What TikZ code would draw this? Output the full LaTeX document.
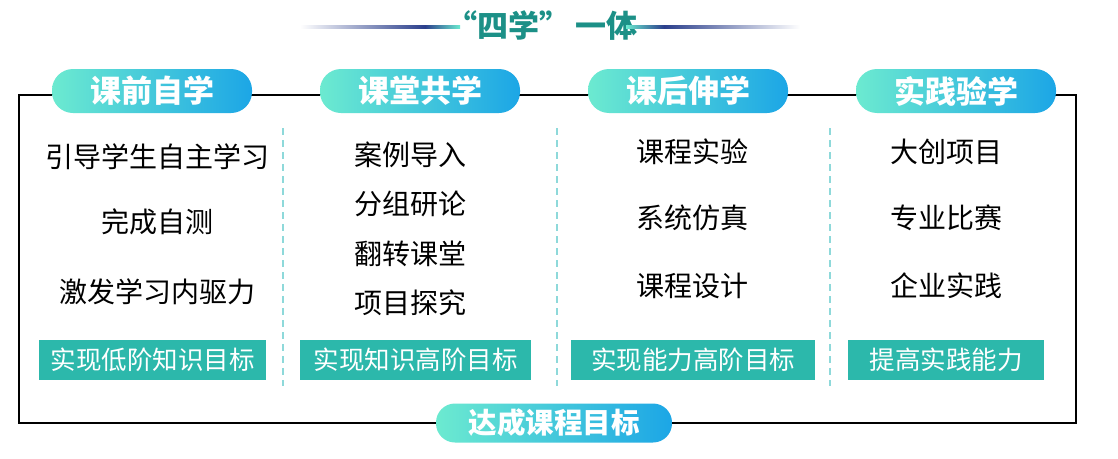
\documentclass[tikz,border=0pt]{standalone}
\usepackage{fontspec}
\setmainfont{Noto Sans CJK SC}
\definecolor{pillL}{HTML}{6CEAD0}
\definecolor{pillR}{HTML}{1CA6E6}
\definecolor{goalC}{HTML}{2CB8AB}
\definecolor{titleC}{HTML}{1C9087}
\definecolor{dashC}{HTML}{8ED9DA}
\definecolor{navyC}{HTML}{2B3F8C}
\begin{document}
\begin{tikzpicture}[x=1pt,y=-1pt,
  pill/.style={rectangle, rounded corners=21pt, minimum width=200pt, minimum height=44pt,
    left color=pillL, right color=pillR, draw=none, text=white, inner sep=0pt,
    font=\bfseries\fontsize{31}{31}\selectfont},
  goal/.style={rectangle, fill=goalC, text=white, minimum height=40pt, inner sep=0pt,
    font=\fontsize{25.5}{25.5}\selectfont},
  item/.style={text=black, inner sep=0pt, font=\fontsize{28}{28}\selectfont},
  sep/.style={dashC, line width=1.6pt, dash pattern=on 7pt off 5pt},
  frame/.style={black, line width=2pt}]
\useasboundingbox[fill=white] (0,0) rectangle (1118,458);
% title
\node[text=titleC, inner sep=0pt, font=\bfseries\fontsize{31}{31}\selectfont] (title) at (542,26) {“四学”\,一体};
\fill[left color=white, right color=navyC] (300,25.5) rectangle (425,28.5);
\fill[left color=navyC, right color=pillL] (425,25.5) rectangle (460,28.5);
\fill[left color=pillL, right color=navyC] (626,25.5) rectangle (664,28.5);
\fill[left color=navyC, right color=white] (664,25.5) rectangle (800,28.5);
% frame
\coordinate (tl) at (19,95);
\coordinate (br) at (1076,423);
\draw[frame] (tl) rectangle (br);
% separators
\coordinate (s1t) at (283,128); \coordinate (s1b) at (283,386);
\coordinate (s2t) at (557,128); \coordinate (s2b) at (557,386);
\coordinate (s3t) at (830,128); \coordinate (s3b) at (830,386);
\draw[sep] (s1t) -- (s1b);
\draw[sep] (s2t) -- (s2b);
\draw[sep] (s3t) -- (s3b);
% pills
\node[pill] (p1) at (152,91) {课前自学};
\node[pill] (p2) at (420,91) {课堂共学};
\node[pill] (p3) at (688,91) {课后伸学};
\node[pill] (p4) at (956,91) {实践验学};
\node[pill, minimum width=236pt, minimum height=39pt, rounded corners=19pt,
  font=\bfseries\fontsize{28.5}{28.5}\selectfont] (pb) at (554,423) {达成课程目标};
% column 1
\node[item] (a1) at (157,157) {引导学生自主学习};
\node[item] (a2) at (157,222) {完成自测};
\node[item] (a3) at (157,292) {激发学习内驱力};
% column 2
\node[item] (b1) at (410,155) {案例导入};
\node[item] (b2) at (410,204) {分组研论};
\node[item] (b3) at (410,254) {翻转课堂};
\node[item] (b4) at (410,303) {项目探究};
% column 3
\node[item] (c1) at (692,152) {课程实验};
\node[item] (c2) at (692,218) {系统仿真};
\node[item] (c3) at (692,286) {课程设计};
% column 4
\node[item] (d1) at (946,152) {大创项目};
\node[item] (d2) at (946,218) {专业比赛};
\node[item] (d3) at (946,286) {企业实践};
% goals
\node[goal, minimum width=227pt] (g1) at (152.5,360) {实现低阶知识目标};
\node[goal, minimum width=231pt] (g2) at (415.5,360) {实现知识高阶目标};
\node[goal, minimum width=244pt] (g3) at (693,360) {实现能力高阶目标};
\node[goal, minimum width=196pt] (g4) at (946,360) {提高实践能力};
\end{tikzpicture}
\end{document}
